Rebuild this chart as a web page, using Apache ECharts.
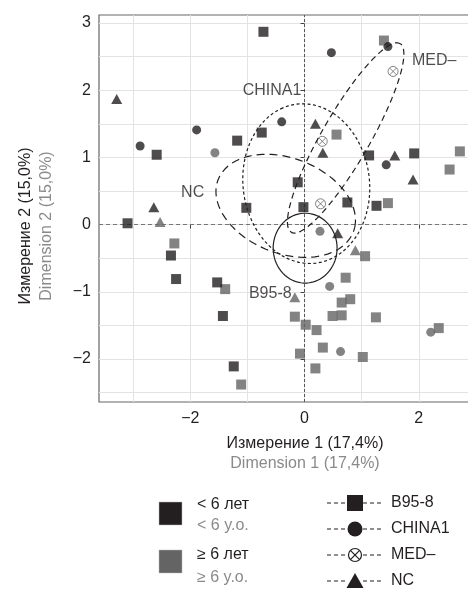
<!DOCTYPE html>
<html>
<head>
<meta charset="utf-8">
<script src="https://cdn.jsdelivr.net/npm/echarts@6/dist/echarts.min.js"></script>
<style>
html, body { margin: 0; padding: 0; background: #fff; }
#chart { width: 468px; height: 590px; }
</style>
</head>
<body>
<div id="chart"></div>
<script>
// tick labels and grid lines
const xTicks = [-2, 0, 2];
const yTicks = [-2, -1, 0, 1, 2, 3];
const xGrid = [-3, -2, -1, 0, 1, 2];
const yGrid = [-2.5, -2, -1.5, -1, -0.5, 0, 0.5, 1, 1.5, 2, 2.5, 3];

// points: [dim1, dim2]
const b958Under6 = [[-0.72, 2.87], [-2.59, 1.04], [-1.18, 1.25], [-0.75, 1.37], [1.13, 1.03], [1.92, 1.06],
  [-0.12, 0.63], [-0.02, 0.26], [0.75, 0.33], [1.26, 0.28], [-3.10, 0.02], [-1.02, 0.25], [-2.34, -0.46],
  [-2.25, -0.81], [-1.53, -0.86], [-1.43, -1.36], [-1.24, -2.11]];
const b958Over6 = [[1.39, 2.74], [0.56, 1.34], [2.72, 1.09], [2.54, 0.82], [1.46, 0.32], [1.06, -0.47],
  [0.72, -0.79], [0.80, -1.11], [0.65, -1.16], [-0.17, -1.37], [0.49, -1.36], [0.65, -1.35], [1.25, -1.38],
  [0.02, -1.49], [0.21, -1.57], [2.35, -1.54], [0.32, -1.83], [-0.08, -1.92], [1.02, -1.97], [0.19, -2.14],
  [-2.28, -0.28], [-1.39, -0.96], [-1.11, -2.38]];
const china1Under6 = [[-1.89, 1.41], [-2.88, 1.17], [-0.40, 1.53], [1.46, 2.65], [0.47, 2.56], [1.43, 0.89]];
const china1Over6 = [[-1.57, 1.07], [0.27, -0.10], [0.44, -0.92], [2.21, -1.60], [0.63, -1.89]];
const medPoints = [[1.55, 2.28], [0.31, 1.24], [0.28, 0.31]];
const ncUnder6 = [[-3.29, 1.87], [-2.64, 0.26], [0.19, 1.50], [0.32, 1.07], [1.58, 1.03], [1.90, 0.67], [0.58, -0.13]];
const ncOver6 = [[-2.53, 0.04], [0.89, -0.38], [-0.17, -1.08]];

// ellipses: centre, semi-axes, angle in degrees
const ellipseNames = ['B95-8', 'CHINA1', 'MED–', 'NC'];
const ellipseCx = [0.01, 0.03, 0.72, -0.33];
const ellipseCy = [-0.35, 0.61, 1.29, 0.28];
const ellipseA = [0.56, 1.20, 1.70, 1.25];
const ellipseB = [0.52, 1.10, 0.40, 0.72];
const ellipseAngle = [0, 110, 55.4, -15];
const labelX = [-0.60, -0.57, 2.27, -1.96];
const labelY = [-1.02, 1.99, 2.44, 0.48];

const DARK = '#231f20';
const GREY = '#646464';
const FONT = 'Liberation Sans';
const ellipseDash = ['solid', [3, 2.5], [6, 4], [8, 5]];

function ellipsePath(i) {
  const out = [];
  const th = ellipseAngle[i] * Math.PI / 180;
  for (let k = 0; k <= 140; k++) {
    const t = k / 140 * 2 * Math.PI;
    const u = ellipseA[i] * Math.cos(t), v = ellipseB[i] * Math.sin(t);
    out.push([ellipseCx[i] + u * Math.cos(th) - v * Math.sin(th),
              ellipseCy[i] + u * Math.sin(th) + v * Math.cos(th)]);
  }
  return out;
}

function points(data, symbol, size, color, z) {
  return { type: 'scatter', data: data, symbol: symbol, symbolSize: size,
           itemStyle: { color: color }, z: z, silent: true };
}

const crossCircle = 'path://M0,10 A10,10 0 1,0 20,10 A10,10 0 1,0 0,10 Z M3,3 L17,17 M17,3 L3,17';

const series = [
  { type: 'scatter', data: [], z: 0, silent: true,
    markLine: { z: 0, silent: true, symbol: ['none', 'none'], label: { show: false },
      lineStyle: { color: '#e3e3e3', width: 1, type: 'solid' },
      data: xGrid.map(v => ({ xAxis: v })).concat(yGrid.map(v => ({ yAxis: v }))) } },
  { type: 'scatter', data: [], z: 1, silent: true,
    markLine: { z: 1, silent: true, symbol: ['none', 'none'], label: { show: false },
      data: [
        { xAxis: 0, lineStyle: { color: '#333', width: 0.8, type: [3, 2] } },
        { yAxis: 0, lineStyle: { color: '#777', width: 1, type: [4, 3] } }
      ] } },
  points(b958Over6, 'rect', 10, GREY, 3),
  points(b958Under6, 'rect', 10, DARK, 3),
  points(ncOver6, 'triangle', [11, 10], GREY, 4),
  points(ncUnder6, 'triangle', [11, 10], DARK, 4),
  points(china1Over6, 'circle', 9, GREY, 5),
  points(china1Under6, 'circle', 9, DARK, 5),
  { type: 'scatter', data: medPoints, symbol: crossCircle, symbolSize: 10, z: 5, silent: true,
    itemStyle: { color: 'rgba(0,0,0,0)', borderColor: '#555', borderWidth: 0.9 } }
];

ellipseNames.forEach((name, i) => {
  series.push({ type: 'line', data: ellipsePath(i), showSymbol: false, symbol: 'none', silent: true, z: 6,
    lineStyle: { color: DARK, width: 1.2, type: ellipseDash[i] } });
});

series.push({ type: 'scatter', silent: true, z: 7, symbolSize: 0,
  data: ellipseNames.map((n, i) => ({ value: [labelX[i], labelY[i]], name: n })),
  label: { show: true, position: 'inside', formatter: p => p.name,
           color: DARK, fontSize: 16, fontFamily: FONT } });

const legendRows = [503, 529, 555, 581];
const legendGraphics = [
  { type: 'rect', shape: { x: 159, y: 502, width: 23, height: 23 }, style: { fill: DARK, stroke: '#bbb', lineWidth: 0.5 } },
  { type: 'rect', shape: { x: 159, y: 550, width: 23, height: 23 }, style: { fill: GREY, stroke: '#bbb', lineWidth: 0.5 } },
  { type: 'text', x: 197, y: 505, style: { text: '< 6 лет', fill: DARK, font: '16px ' + FONT, verticalAlign: 'middle' } },
  { type: 'text', x: 197, y: 526, style: { text: '< 6 y.o.', fill: '#8a8a8a', font: '16px ' + FONT, verticalAlign: 'middle' } },
  { type: 'text', x: 197, y: 555, style: { text: '≥ 6 лет', fill: DARK, font: '16px ' + FONT, verticalAlign: 'middle' } },
  { type: 'text', x: 197, y: 578, style: { text: '≥ 6 y.o.', fill: '#8a8a8a', font: '16px ' + FONT, verticalAlign: 'middle' } }
];
legendRows.forEach((y, i) => {
  legendGraphics.push(
    { type: 'line', shape: { x1: 327, y1: y, x2: 348, y2: y }, style: { stroke: DARK, lineWidth: 1.2, lineDash: [4, 3] } },
    { type: 'line', shape: { x1: 363, y1: y, x2: 382, y2: y }, style: { stroke: DARK, lineWidth: 1.2, lineDash: [4, 3] } },
    { type: 'text', x: 391, y: y, style: { text: ellipseNames[i], fill: DARK, font: '16px ' + FONT, verticalAlign: 'middle' } }
  );
});
legendGraphics.push(
  { type: 'rect', shape: { x: 347, y: 495, width: 16, height: 16 }, style: { fill: DARK } },
  { type: 'circle', shape: { cx: 355, cy: 529, r: 7.5 }, style: { fill: DARK } },
  { type: 'circle', shape: { cx: 355, cy: 555, r: 6.5 }, style: { fill: 'none', stroke: DARK, lineWidth: 1.2 } },
  { type: 'line', shape: { x1: 350.4, y1: 550.4, x2: 359.6, y2: 559.6 }, style: { stroke: DARK, lineWidth: 1.2 } },
  { type: 'line', shape: { x1: 359.6, y1: 550.4, x2: 350.4, y2: 559.6 }, style: { stroke: DARK, lineWidth: 1.2 } },
  { type: 'polygon', shape: { points: [[355, 573], [346.5, 588], [363.5, 588]] }, style: { fill: DARK } }
);

const titleGraphics = [
  { type: 'text', x: 305, y: 444, style: { text: 'Измерение 1 (17,4%)', fill: DARK, font: '16px ' + FONT, align: 'center', verticalAlign: 'middle' } },
  { type: 'text', x: 305, y: 464, style: { text: 'Dimension 1 (17,4%)', fill: '#8a8a8a', font: '16px ' + FONT, align: 'center', verticalAlign: 'middle' } },
  { type: 'text', x: 26, y: 226, rotation: Math.PI / 2, style: { text: 'Измерение 2 (15,0%)', fill: DARK, font: '16px ' + FONT, align: 'center', verticalAlign: 'middle' } },
  { type: 'text', x: 47, y: 226, rotation: Math.PI / 2, style: { text: 'Dimension 2 (15,0%)', fill: '#8a8a8a', font: '16px ' + FONT, align: 'center', verticalAlign: 'middle' } }
];

const minus = v => String(v).replace('-', '\u2212');

const chart = echarts.init(document.getElementById('chart'));
chart.setOption({
  animation: false,
  grid: { left: 99, top: 15, right: -1, bottom: 188, show: true, borderColor: '#666', borderWidth: 1.2,
          backgroundColor: '#fff', outerBoundsMode: 'none' },
  xAxis: {
    type: 'value', min: -3.6, max: 2.88, splitLine: { show: false },
    axisLine: { show: false },
    axisTick: { show: true, length: 4, customValues: xTicks, lineStyle: { color: '#444' } },
    axisLabel: { customValues: xTicks, formatter: minus, color: DARK, fontSize: 16, fontFamily: FONT, margin: 9 }
  },
  yAxis: {
    type: 'value', min: -2.64, max: 3.12, splitLine: { show: false },
    axisLine: { show: false },
    axisTick: { show: true, length: 4, customValues: yTicks, lineStyle: { color: '#444' } },
    axisLabel: { customValues: yTicks, formatter: minus, color: DARK, fontSize: 16, fontFamily: FONT, margin: 8 }
  },
  series: series,
  graphic: legendGraphics.concat(titleGraphics)
});
window.addEventListener('resize', function () { chart.resize(); });
</script>
</body>
</html>
